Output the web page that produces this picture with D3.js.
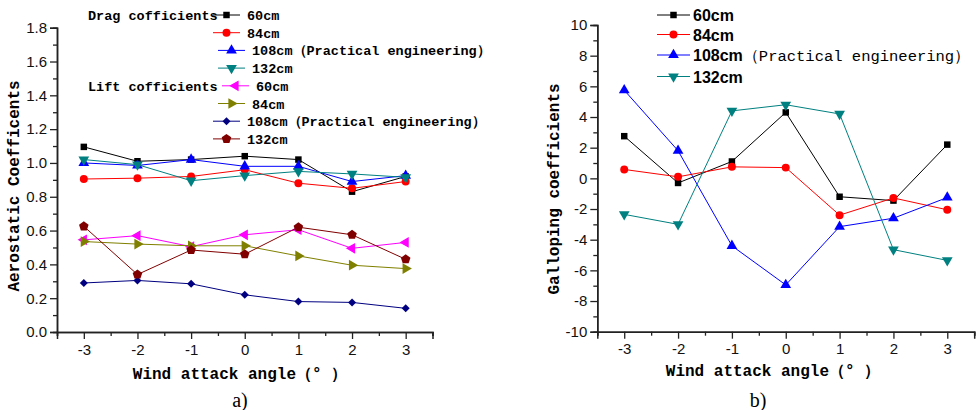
<!DOCTYPE html>
<html><head><meta charset="utf-8">
<script src="https://cdn.jsdelivr.net/npm/d3@7"></script>
<style>
body{margin:0;background:#fff;}
svg{display:block;}
</style></head>
<body>
<svg id="chart" width="978" height="410"></svg>
<script>
// ---------- DATA ----------
const angles = [-3, -2, -1, 0, 1, 2, 3];
const xTicks = [-3, -2, -1, 0, 1, 2, 3];
const leftYTicks = [0.0, 0.2, 0.4, 0.6, 0.8, 1.0, 1.2, 1.4, 1.6, 1.8];
const rightYTicks = [-10, -8, -6, -4, -2, 0, 2, 4, 6, 8, 10];

const drag60  = [1.095, 1.01, 1.02, 1.04, 1.02, 0.83, 0.92];
const drag84  = [0.905, 0.91, 0.92, 0.96, 0.88, 0.85, 0.89];
const drag108 = [1.00, 0.985, 1.02, 0.98, 0.98, 0.89, 0.925];
const drag132 = [1.02, 0.99, 0.895, 0.925, 0.95, 0.935, 0.915];
const lift60  = [0.545, 0.57, 0.505, 0.575, 0.605, 0.495, 0.53];
const lift84  = [0.535, 0.52, 0.51, 0.51, 0.45, 0.395, 0.375];
const lift108 = [0.29, 0.305, 0.285, 0.22, 0.18, 0.175, 0.14];
const lift132 = [0.625, 0.34, 0.485, 0.46, 0.62, 0.575, 0.43];

const gal60  = [2.75, -0.3, 1.1, 4.3, -1.2, -1.45, 2.2];
const gal84  = [0.58, 0.1, 0.75, 0.7, -2.4, -1.28, -2.05];
const gal108 = [5.75, 1.8, -4.4, -6.95, -3.15, -2.6, -1.25];
const gal132 = [-2.35, -3.0, 4.4, 4.8, 4.2, -4.65, -5.35];

const leftNames = ["60cm", "84cm", "108cm（Practical engineering）", "132cm",
                   "60cm", "84cm", "108cm（Practical engineering）", "132cm"];
const groupLabels = ["Drag cofficients", "Lift cofficients"];
const rightNames = ["60cm", "84cm", "108cm", "132cm"];
const rightSuffix = ["", "", "（Practical engineering）", ""];

const leftTitleX = "Wind attack angle（° ）";
const leftTitleY = "Aerostatic Coefficents";
const rightTitleY = "Galloping coefficients";
const panelLabels = ["a)", "b)"];

// ---------- STYLE ----------
const colors = {black:"#000000", red:"#ff0000", blue:"#0000ff", teal:"#008080",
  magenta:"#ff00ff", olive:"#808000", navy:"#000080", maroon:"#800000"};
const mono = "'Liberation Mono', 'DejaVu Sans Mono', monospace";
const sans = "'Liberation Sans', Arial, sans-serif";
const serif = "'Liberation Serif', 'Times New Roman', serif";

// custom pentagon symbol
const symbolPentagon = {
  draw(ctx, size) {
    const r = Math.sqrt(size / 2.3776);
    for (let i = 0; i < 5; i++) {
      const a = -Math.PI / 2 + i * 2 * Math.PI / 5;
      const x = r * Math.cos(a), y = r * Math.sin(a);
      if (i === 0) ctx.moveTo(x, y); else ctx.lineTo(x, y);
    }
    ctx.closePath();
  }
};
const mk = {
  square: {type: d3.symbolSquare, size: 42, rot: 0},
  circle: {type: d3.symbolCircle, size: 50, rot: 0},
  up: {type: d3.symbolTriangle, size: 50, rot: 0},
  down: {type: d3.symbolTriangle, size: 50, rot: 180},
  left: {type: d3.symbolTriangle, size: 50, rot: -90},
  right: {type: d3.symbolTriangle, size: 50, rot: 90},
  diamond: {type: d3.symbolSquare, size: 32, rot: 45},
  pentagon: {type: symbolPentagon, size: 60, rot: 0}
};

const leftSeries = [
  {vals: drag60, color: colors.black, m: mk.square},
  {vals: drag84, color: colors.red, m: mk.circle},
  {vals: drag108, color: colors.blue, m: mk.up},
  {vals: drag132, color: colors.teal, m: mk.down},
  {vals: lift60, color: colors.magenta, m: mk.left},
  {vals: lift84, color: colors.olive, m: mk.right},
  {vals: lift108, color: colors.navy, m: mk.diamond},
  {vals: lift132, color: colors.maroon, m: mk.pentagon}
];
const rightSeries = [
  {vals: gal60, color: colors.black, m: mk.square},
  {vals: gal84, color: colors.red, m: mk.circle},
  {vals: gal108, color: colors.blue, m: mk.up},
  {vals: gal132, color: colors.teal, m: mk.down}
];

const svg = d3.select("#chart");
const hyphen = f => (d => f(d).replace("\u2212", "-"));

function drawPanel(opt) {
  const x = d3.scaleLinear().domain([-3.5, 3.5]).range(opt.xr);
  const y = d3.scaleLinear().domain(opt.yd).range(opt.yr);
  const g = svg.append("g");

  const xAxisMinor = d3.axisBottom(x).tickValues(d3.range(-3.5, 3.6, 1)).tickSize(4).tickFormat("");
  const xAxis = d3.axisBottom(x).tickValues(xTicks).tickSize(7).tickPadding(5).tickFormat(hyphen(d3.format("d")));
  const yAxisMinor = d3.axisLeft(y).tickValues(opt.minor).tickSize(4).tickFormat("");
  const yAxis = d3.axisLeft(y).tickValues(opt.yTicks).tickSize(7).tickPadding(3).tickFormat(hyphen(opt.fmt));

  [xAxisMinor, xAxis].forEach(a => {
    g.append("g").attr("transform", `translate(0,${opt.yr[0]})`).call(a);
  });
  [yAxisMinor, yAxis].forEach(a => {
    g.append("g").attr("transform", `translate(${opt.xr[0]},0)`).call(a);
  });
  g.selectAll(".domain").attr("stroke", "#222").attr("stroke-width", 1.5);
  g.selectAll(".tick line").attr("stroke", "#222").attr("stroke-width", 1.3);
  g.selectAll(".tick text").attr("font-family", sans).attr("font-size", 15).attr("fill", "#111");

  opt.series.forEach(s => {
    const line = d3.line().x((d, i) => x(angles[i])).y(d => y(d));
    g.append("path").datum(s.vals).attr("d", line)
      .attr("fill", "none").attr("stroke", s.color).attr("stroke-width", 1);
    g.selectAll(null).data(s.vals).enter().append("path")
      .attr("d", d3.symbol().type(s.m.type).size(s.m.size))
      .attr("transform", (d, i) => `translate(${x(angles[i])},${y(d)}) rotate(${s.m.rot})`)
      .attr("fill", s.color);
  });

  g.append("text").attr("x", opt.xTitle[0]).attr("y", opt.xTitle[1])
    .attr("text-anchor", "middle").attr("font-family", mono).attr("font-weight", "bold")
    .attr("font-size", 16).text(leftTitleX);
  g.append("text").attr("transform", `translate(${opt.yTitle[0]},${opt.yTitle[1]}) rotate(-90)`)
    .attr("text-anchor", "middle").attr("font-family", mono).attr("font-weight", "bold")
    .attr("font-size", 16).text(opt.yTitleText);
  g.append("text").attr("x", opt.panel[0]).attr("y", opt.panel[1])
    .attr("text-anchor", "middle").attr("font-family", serif)
    .attr("font-size", 20).text(opt.panelText);
  return g;
}

drawPanel({
  xr: [57, 432.5], yd: [0, 1.8], yr: [332, 27.7],
  yTicks: leftYTicks, minor: d3.range(1, 18, 2).map(v => v / 10),
  fmt: d3.format(".1f"), series: leftSeries,
  xTitle: [240, 379], yTitle: [19, 186], yTitleText: leftTitleY,
  panel: [240, 407], panelText: panelLabels[0]
});
drawPanel({
  xr: [597.3, 974.2], yd: [-10, 10], yr: [331.7, 25],
  yTicks: rightYTicks, minor: d3.range(-9, 10, 2),
  fmt: d3.format("d"), series: rightSeries,
  xTitle: [773, 376], yTitle: [559, 189], yTitleText: rightTitleY,
  panel: [758, 407], panelText: panelLabels[1]
});

// ---------- LEFT LEGEND ----------
const leg = svg.append("g");
const rowY = d3.range(8).map(i => 15 + i * 17.7);
const rowDx = [0, 0, 5, 5, 9, 5, 0, 0];
[0, 4].forEach((r, k) => {
  leg.append("text").attr("x", 88).attr("y", rowY[r] + 5)
    .attr("font-family", mono).attr("font-weight", "bold").attr("font-size", 13.5)
    .text(groupLabels[k]);
});
leftSeries.forEach((s, i) => {
  const x0 = 213 + rowDx[i], cy = rowY[i];
  leg.append("line").attr("x1", x0).attr("x2", x0 + 27).attr("y1", cy).attr("y2", cy)
    .attr("stroke", s.color).attr("stroke-width", 1);
  leg.append("path").attr("d", d3.symbol().type(s.m.type).size(s.m.size))
    .attr("transform", `translate(${x0 + 13.5},${cy}) rotate(${s.m.rot})`).attr("fill", s.color);
  leg.append("text").attr("x", x0 + 34).attr("y", cy + 5)
    .attr("font-family", mono).attr("font-weight", "bold").attr("font-size", 13.5)
    .text(leftNames[i]);
});

// ---------- RIGHT LEGEND ----------
const rleg = svg.append("g");
const rRowY = [15, 34.5, 55, 76.5];
rightSeries.forEach((s, i) => {
  const x0 = 657, cy = rRowY[i];
  rleg.append("line").attr("x1", x0).attr("x2", x0 + 33).attr("y1", cy).attr("y2", cy)
    .attr("stroke", s.color).attr("stroke-width", 1);
  rleg.append("path").attr("d", d3.symbol().type(s.m.type).size(s.m.size))
    .attr("transform", `translate(${x0 + 16.5},${cy}) rotate(${s.m.rot})`).attr("fill", s.color);
  const t = rleg.append("text").attr("x", x0 + 36).attr("y", cy + 6);
  t.append("tspan").attr("font-family", sans).attr("font-weight", "bold").attr("font-size", 16)
    .text(rightNames[i]);
  if (rightSuffix[i]) t.append("tspan").attr("font-family", mono).attr("font-weight", "normal")
    .attr("font-size", 15.5).text(rightSuffix[i]);
});
</script>
</body></html>
